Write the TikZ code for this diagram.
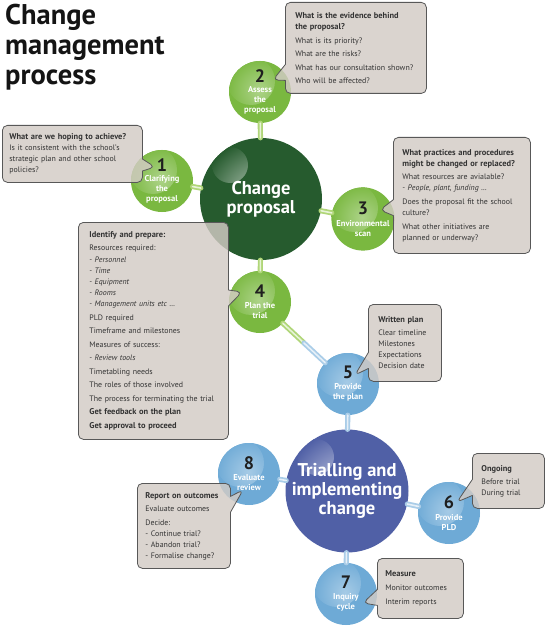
\documentclass[tikz,border=0pt]{standalone}
\usepackage{fontspec}
\setmainfont{PT Sans}
\usetikzlibrary{shapes.callouts,calc}
\definecolor{stagegreen}{RGB}{122,184,64}
\definecolor{hubgreen}{RGB}{38,91,46}
\definecolor{stageblue}{RGB}{110,170,214}
\definecolor{hubblue}{RGB}{80,96,166}
\definecolor{linkgreen}{RGB}{176,214,120}
\definecolor{linkblue}{RGB}{170,205,232}
\definecolor{notefill}{RGB}{211,203,197}
\definecolor{noteline}{RGB}{88,88,88}
\newcommand{\stagenum}[1]{{\fontsize{18}{18}\selectfont\color{black!88}#1}}
\newcommand{\notehead}[1]{{\fontsize{8.4}{11}\selectfont\bfseries #1}}
\begin{document}
\begin{tikzpicture}[x=1pt,y=-1pt,line join=round,line cap=round]
  \tikzset{stage/.style={circle,fill=#1,minimum size=62pt,inner sep=0pt,align=center,text=white,font=\fontsize{8.5}{10}\selectfont\bfseries,
      path picture={\shade[inner color=white!38!#1,outer color=#1] ([shift={(-9,-11)}]path picture bounding box.center) circle (24);}},
    hub/.style={circle,fill=#1,minimum size=122pt,inner sep=0pt,align=center,text=white,font=\fontsize{18.5}{19}\selectfont\bfseries,
      path picture={\shade[inner color=white!72!#1,outer color=#1] ([shift={(-31,-34)}]path picture bounding box.center) circle (18);}},
    note/.style={rectangle callout,draw=noteline,fill=notefill,fill opacity=.82,text opacity=1,rounded corners=5pt,line width=.8pt,
      callout pointer width=16pt,anchor=north west,align=left,inner ysep=0pt,text=black!80,font=\fontsize{7.9}{11}\selectfont},
    link/.style={draw=#1,line width=1.8pt,double=white!70!#1,double distance=1.6pt}}
  \path[use as bounding box,fill=white] (0,0) rectangle (554,631);
  % title
  \node[anchor=north west,inner sep=0pt,align=left,font=\fontsize{28.5}{30}\selectfont\bfseries,text=black!92] (title) at (5,4) {Change\\management\\process};
  % hubs and stages
  \node[hub=hubgreen] (cp) at (261,199) {Change\\proposal};
  \node[hub=hubblue] (tc) at (347,491) {Trialling and\\implementing\\change};
  \node[stage=stagegreen] (c1) at (162,181) {\stagenum{1}\\Clarifying\\the\\proposal};
  \node[stage=stagegreen] (c2) at (260,92) {\stagenum{2}\\Assess\\the\\proposal};
  \node[stage=stagegreen] (c3) at (363,219) {\stagenum{3}\\[2pt]Environmental\\scan};
  \node[stage=stagegreen] (c4) at (260,302) {\stagenum{4}\\[1pt]Plan the\\trial};
  \node[stage=stageblue] (c5) at (348,384) {\stagenum{5}\\[1pt]Provide\\the plan};
  \node[stage=stageblue] (c6) at (449,513) {\stagenum{6}\\[2pt]Provide\\PLD};
  \node[stage=stageblue] (c7) at (346,594) {\stagenum{7}\\[1pt]Inquiry\\cycle};
  \node[stage=stageblue] (c8) at (249,474) {\stagenum{8}\\[1pt]Evaluate\\review};
  % links
  \foreach \s in {c1,c2,c3,c4}
    \draw[link=linkgreen] (cp) -- (\s);
  \foreach \s in {c5,c6,c7,c8}
    \draw[link=linkblue] (tc) -- (\s);
  \coordinate (m45) at ($(c4)!.5!(c5)$);
  \draw[link=linkgreen] (c4) -- (m45);
  \draw[link=linkblue] (m45) -- (c5);
  % notes
  \node[note,minimum width=140pt,minimum height=57pt,inner xsep=7pt,text width=126pt,callout pointer width=12pt,
    callout absolute pointer={($(c1)+(-7,-14)$)}] (q1) at (2,125)
    {\notehead{What are we hoping to achieve?}\\Is it consistent with the school’s\\strategic plan and other school\\policies?};
  \node[note,minimum width=141pt,minimum height=91pt,inner xsep=10pt,text width=121pt,
    callout absolute pointer={($(c2)+(13,-12)$)}] (q2) at (285,2)
    {\notehead{What is the evidence behind}\\\notehead{the proposal?}\\[3pt]What is its priority?\\[2.5pt]What are the risks?\\[2.5pt]What has our consultation shown?\\[2.5pt]Who will be affected?};
  \node[note,minimum width=137pt,minimum height=116pt,inner xsep=9pt,text width=119pt,
    callout absolute pointer={($(c3)+(17,-9)$)}] (q3) at (393,137)
    {\notehead{What practices and procedures}\\\notehead{might be changed or replaced?}\\[2pt]What resources are avialable?\\\textit{- People, plant, funding \dots}\\[3pt]Does the proposal fit the school\\culture?\\[3pt]What other initiatives are\\planned or underway?};
  \node[note,minimum width=150pt,minimum height=217pt,inner xsep=11pt,text width=128pt,
    callout absolute pointer={($(c4)+(-18,-10)$)}] (q4) at (78,222)
    {\notehead{Identify and prepare:}\\[2pt]Resources required:\\[1pt]\textit{- Personnel}\\\textit{- Time}\\\textit{- Equipment}\\\textit{- Rooms}\\\textit{- Management units etc \dots}\\[2.5pt]PLD required\\[2.5pt]Timeframe and milestones\\[2.5pt]Measures of success:\\[2.5pt]\textit{- Review tools}\\[2.5pt]Timetabling needs\\[2.5pt]The roles of those involved\\[2.5pt]The process for terminating the trial\\[2.5pt]\notehead{Get feedback on the plan}\\[2.5pt]\notehead{Get approval to proceed}};
  \node[note,minimum width=73pt,minimum height=77pt,inner xsep=10pt,text width=53pt,
    callout absolute pointer={($(c5)+(7,-9)$)}] (q5) at (368,304)
    {\notehead{Written plan}\\[2pt]Clear timeline\\Milestones\\Expectations\\Decision date};
  \node[note,minimum width=72pt,minimum height=55pt,inner xsep=9pt,text width=54pt,
    callout absolute pointer={($(c6)+(8,-11)$)}] (q6) at (472,453)
    {\notehead{Ongoing}\\[2pt]Before trial\\During trial};
  \node[note,minimum width=86pt,minimum height=60pt,inner xsep=8pt,text width=70pt,
    callout absolute pointer={($(c7)+(17,9)$)}] (q7) at (377,558)
    {\notehead{Measure}\\[3pt]Monitor outcomes\\[3pt]Interim reports};
  \node[note,minimum width=93pt,minimum height=85pt,inner xsep=8pt,text width=77pt,
    callout absolute pointer={($(c8)+(-6,16)$)}] (q8) at (137,483)
    {\notehead{Report on outcomes}\\[2pt]Evaluate outcomes\\[3pt]Decide:\\- Continue trial?\\- Abandon trial?\\- Formalise change?};
\end{tikzpicture}
\end{document}
